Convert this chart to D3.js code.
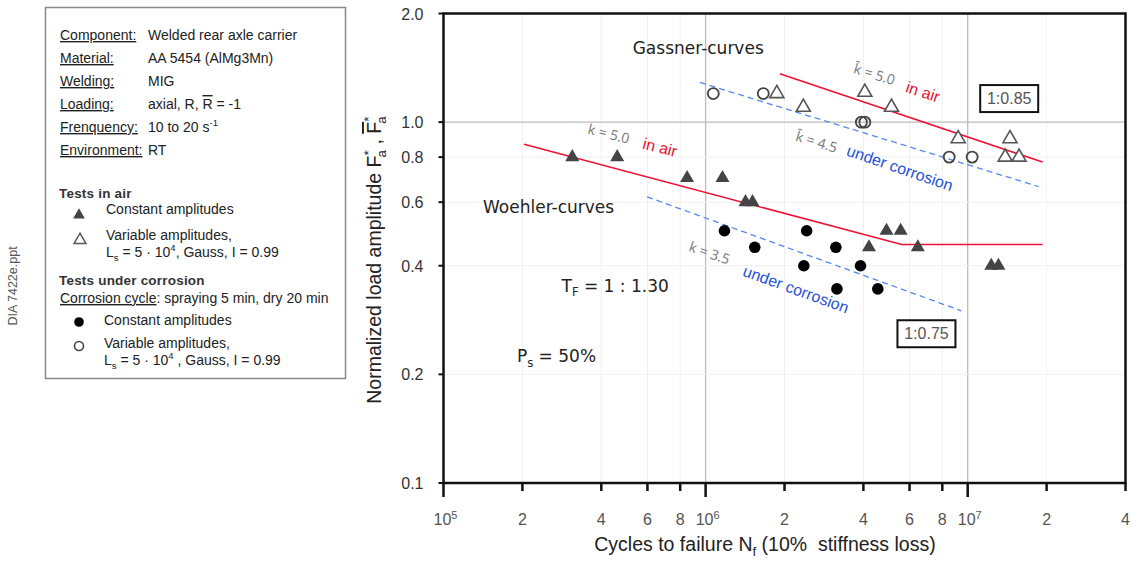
<!DOCTYPE html>
<html lang="en">
<head>
<meta charset="UTF-8">
<title>Welded rear axle carrier - Woehler and Gassner curves</title>
<script src="https://d3js.org/d3.v7.min.js"></script>
<style>
  body { margin: 0; background: #fff; }
  svg { font-family: "Liberation Sans", Arial, sans-serif; }
  .frame { fill: none; stroke: #111; stroke-width: 2.5px; }
  .grid-major { stroke: #bbb; stroke-width: 1.3px; }
  .grid-minor { stroke: #f0f0f0; stroke-width: 1px; }
  .ylab { fill: #333; font-size: 16px; text-anchor: end; }
  .xlab { fill: #555; font-size: 16px; text-anchor: middle; }
  .title { fill: #222; font-size: 19.5px; white-space: pre; }
  .legend text { fill: #222; font-size: 14px; }
  .legend .head { font-weight: bold; font-size: 13.5px; letter-spacing: 0.2px; fill: #333; }
  .note { font-size: 17px; fill: #222; font-family: "DejaVu Sans", sans-serif; }
  .kval { font-size: 14px; fill: #777; font-family: "Open Sans", sans-serif; }
  .red { fill: #e8102e; font-size: 16px; }
  .blue { fill: #2552d8; font-size: 16px; }
  .ratio { font-size: 16px; fill: #555; text-anchor: middle; }
</style>
</head>
<body>
<svg width="1139" height="561"></svg>
<script>
// ---- values ----
const xTicks = [1e5, 2e5, 4e5, 6e5, 8e5, 1e6, 2e6, 4e6, 6e6, 8e6, 1e7, 2e7, 4e7];
const xTickText = ["10|5", "2", "4", "6", "8", "10|6", "2", "4", "6", "8", "10|7", "2", "4"];
const yTicks = [0.1, 0.2, 0.4, 0.6, 0.8, 1.0, 2.0];
const yTickText = ["0.1", "0.2", "0.4", "0.6", "0.8", "1.0", "2.0"];

// tests in air, constant amplitudes (filled triangles)
const airConstN = [3.1e5, 4.6e5, 8.5e5, 1.16e6, 1.42e6, 1.51e6, 4.9e6, 5.55e6, 4.2e6, 6.45e6, 1.23e7, 1.31e7];
const airConstF = [0.80, 0.80, 0.70, 0.70, 0.60, 0.60, 0.50, 0.50, 0.45, 0.45, 0.40, 0.40];
// tests in air, variable amplitudes (open triangles)
const airVarN = [1.87e6, 2.36e6, 4.05e6, 5.12e6, 9.2e6, 1.45e7, 1.39e7, 1.57e7];
const airVarF = [1.20, 1.10, 1.21, 1.10, 0.90, 0.90, 0.80, 0.80];
// corrosion, constant amplitudes (filled circles)
const corConstN = [1.18e6, 1.54e6, 2.43e6, 3.14e6, 2.37e6, 3.9e6, 3.17e6, 4.54e6];
const corConstF = [0.50, 0.45, 0.50, 0.45, 0.40, 0.40, 0.345, 0.345];
// corrosion, variable amplitudes (open circles)
const corVarN = [1.07e6, 1.66e6, 3.93e6, 4.05e6, 8.5e6, 1.04e7];
const corVarF = [1.20, 1.20, 1.0, 1.0, 0.80, 0.80];

// fitted curves
const woehlerAirN = [2.03e5, 5.6e6, 1.93e7];
const woehlerAirF = [0.868, 0.458, 0.458];
const gassnerAirN = [1.92e6, 1.93e7];
const gassnerAirF = [1.362, 0.775];
const woehlerCorN = [5.98e5, 9.46e6];
const woehlerCorF = [0.621, 0.300];
const gassnerCorN = [9.51e5, 1.865e7];
const gassnerCorF = [1.288, 0.663];

// legend texts
const specLabels = ["Component:", "Material:", "Welding:", "Loading:", "Frenquency:", "Environment:"];
const specValues = [
  [{t: "Welded rear axle carrier"}],
  [{t: "AA 5454 (AlMg3Mn)"}],
  [{t: "MIG"}],
  [{t: "axial, R, "}, {t: "R", over: true}, {t: " = -1"}],
  [{t: "10 to 20 s"}, {t: "-1", sup: true}],
  [{t: "RT"}]
];

const svg = d3.select("svg");
const width = +svg.attr("width");
const height = +svg.attr("height");
const margin = {top: 13.5, right: 13.5, bottom: 78, left: 443.5};

const x = d3.scaleLog().domain([1e5, 4e7]).range([margin.left, width - margin.right]);
const y = d3.scaleLog().domain([0.1, 2]).range([height - margin.bottom, margin.top]);

// small helper for sub / superscripts inside a text element
function rich(text, parts, size) {
  let shift = 0;
  parts.forEach(p => {
    const target = p.sub ? size * 0.27 : p.sup ? -size * 0.4 : 0;
    const ts = text.append("tspan").attr("dy", target - shift).text(p.t);
    if (p.sub || p.sup) ts.attr("font-size", size * 0.68);
    if (p.dx) ts.attr("dx", p.dx);
    if (p.over) ts.style("text-decoration", "overline");
    if (p.under) ts.style("text-decoration", "underline");
    shift = target;
  });
}

// grid
const g = svg.append("g");
g.selectAll(".gx").data(xTicks.slice(1, -1)).enter().append("line")
  .attr("class", d => (d === 1e6 || d === 1e7) ? "grid-major" : "grid-minor")
  .attr("x1", d => x(d)).attr("x2", d => x(d))
  .attr("y1", y.range()[1]).attr("y2", y.range()[0]);
g.selectAll(".gy").data(yTicks.slice(1, -1)).enter().append("line")
  .attr("class", d => d === 1 ? "grid-major" : "grid-minor")
  .attr("y1", d => y(d)).attr("y2", d => y(d))
  .attr("x1", x.range()[0]).attr("x2", x.range()[1]);

// ticks
g.selectAll(".ty").data(yTicks).enter().append("line")
  .attr("x1", x.range()[0] - 5).attr("x2", x.range()[0])
  .attr("y1", d => y(d)).attr("y2", d => y(d))
  .attr("stroke", "#111").attr("stroke-width", 2);
g.selectAll(".tx").data(xTicks).enter().append("line")
  .attr("x1", d => x(d)).attr("x2", d => x(d))
  .attr("y1", y.range()[0])
  .attr("y2", (d, i) => y.range()[0] + (xTickText[i].includes("|") ? 14 : 8))
  .attr("stroke", "#111").attr("stroke-width", 2.5);

// tick labels
g.selectAll(".ylab").data(yTicks).enter().append("text")
  .attr("class", "ylab")
  .attr("x", x.range()[0] - 20).attr("y", d => y(d) + 6)
  .text((d, i) => yTickText[i]);
xTicks.forEach((d, i) => {
  const t = g.append("text").attr("class", "xlab")
    .attr("x", x(d) + (xTickText[i].includes("|") ? 2 : 0)).attr("y", 525);
  const [base, exp] = xTickText[i].split("|");
  if (exp) rich(t, [{t: base}, {t: exp, sup: true}], 16);
  else t.text(base);
});

// frame
g.append("rect").attr("class", "frame")
  .attr("x", x.range()[0]).attr("y", y.range()[1])
  .attr("width", x.range()[1] - x.range()[0])
  .attr("height", y.range()[0] - y.range()[1]);

// axis titles
const xt = svg.append("text").attr("class", "title")
  .attr("x", 765).attr("y", 551).attr("text-anchor", "middle");
rich(xt, [{t: "Cycles to failure N"}, {t: "f", sub: true}, {t: " (10%  stiffness loss)"}], 19.5);

const yt = svg.append("text").attr("class", "title")
  .attr("transform", "translate(381,260) rotate(-90)").attr("text-anchor", "middle");
rich(yt, [{t: "Normalized load amplitude F"}, {t: "*", sup: true}, {t: "a", sub: true, dx: -7},
  {t: " , "}, {t: "F", over: true}, {t: "*", sup: true}, {t: "a", sub: true, dx: -7}], 19.5);

// curves
const line = d3.line().x(d => x(d[0])).y(d => y(d[1]));
const curves = [
  [woehlerAirN, woehlerAirF, "#ee1133", null],
  [gassnerAirN, gassnerAirF, "#ee1133", null],
  [woehlerCorN, woehlerCorF, "#5588ee", "6,4"],
  [gassnerCorN, gassnerCorF, "#5588ee", "6,4"]
];
curves.forEach(([n, f, c, dash]) => {
  g.append("path").datum(n.map((v, i) => [v, f[i]]))
    .attr("d", line).attr("fill", "none")
    .attr("stroke", c).attr("stroke-width", dash ? 1.3 : 1.6)
    .attr("stroke-dasharray", dash);
});

// points
const tri = d3.symbol(d3.symbolTriangle, 85);
const pts = g.append("g");
pts.selectAll(".at").data(airConstN).enter().append("path")
  .attr("d", tri).attr("fill", "#444")
  .attr("transform", (d, i) => `translate(${x(d)},${y(airConstF[i])})`);
pts.selectAll(".av").data(airVarN).enter().append("path")
  .attr("d", tri).attr("fill", "#fff").attr("stroke", "#555").attr("stroke-width", 1.6)
  .attr("transform", (d, i) => `translate(${x(d)},${y(airVarF[i])})`);
pts.selectAll(".cc").data(corConstN).enter().append("circle")
  .attr("cx", d => x(d)).attr("cy", (d, i) => y(corConstF[i]))
  .attr("r", 5.8).attr("fill", "#000");
pts.selectAll(".cv").data(corVarN).enter().append("circle")
  .attr("cx", d => x(d)).attr("cy", (d, i) => y(corVarF[i]))
  .attr("r", 5.5).attr("fill", "none").attr("stroke", "#444").attr("stroke-width", 1.8);

// annotations inside the plot (placed in data coordinates)
const notes = [
  {parts: [{t: "Gassner-curves"}], n: 5.27e5, f: 1.54, cls: "note", a: 0},
  {parts: [{t: "Woehler-curves"}], n: 1.415e5, f: 0.561, cls: "note", a: 0},
  {parts: [{t: "T"}, {t: "F", sub: true}, {t: " = 1 : 1.30"}], n: 2.82e5, f: 0.339, cls: "note", a: 0},
  {parts: [{t: "P"}, {t: "s", sub: true}, {t: " = 50%"}], n: 1.906e5, f: 0.216, cls: "note", a: 0},
  {parts: [{t: "k = 5.0"}], n: 3.53e5, f: 0.93, cls: "kval", a: 14},
  {parts: [{t: "in air"}], n: 5.71e5, f: 0.845, cls: "red", a: 14},
  {parts: [{t: "k\u0304 = 5.0"}], n: 3.64e6, f: 1.37, cls: "kval", a: 17},
  {parts: [{t: "in air"}], n: 5.75e6, f: 1.213, cls: "red", a: 18},
  {parts: [{t: "k\u0304 = 4.5"}], n: 2.19e6, f: 0.89, cls: "kval", a: 17},
  {parts: [{t: "under corrosion"}], n: 3.42e6, f: 0.81, cls: "blue", a: 19},
  {parts: [{t: "k = 3.5"}], n: 8.56e5, f: 0.44, cls: "kval", a: 19},
  {parts: [{t: "under corrosion"}], n: 1.375e6, f: 0.376, cls: "blue", a: 20}
];
notes.forEach(d => {
  const t = g.append("text").attr("class", d.cls)
    .attr("transform", `translate(${x(d.n)},${y(d.f)}) rotate(${d.a})`);
  rich(t, d.parts, d.cls === "note" ? 17 : 15);
});

const ratios = [{t: "1:0.85", n: 1.44e7, f: 1.166}, {t: "1:0.75", n: 6.96e6, f: 0.26}];
ratios.forEach(d => {
  const cx = x(d.n), cy = y(d.f);
  g.append("rect").attr("x", cx - 29).attr("y", cy - 13).attr("width", 58).attr("height", 27)
    .attr("fill", "#fff").attr("stroke", "#111").attr("stroke-width", 2);
  g.append("text").attr("class", "ratio").attr("x", cx).attr("y", cy + 6).text(d.t);
});

// side note
svg.append("text").attr("transform", "translate(17,286) rotate(-90)")
  .attr("text-anchor", "middle").attr("font-size", 12.5).attr("fill", "#555").text("DIA 7422e.ppt");

// legend box
const lg = svg.append("g").attr("class", "legend");
lg.append("rect").attr("x", 45.5).attr("y", 7.5).attr("width", 300).attr("height", 371)
  .attr("fill", "#fff").attr("stroke", "#888").attr("stroke-width", 1.5);

specLabels.forEach((s, i) => {
  lg.append("text").attr("x", 60).attr("y", 40 + i * 23)
    .style("text-decoration", "underline").text(s);
  const v = lg.append("text").attr("x", 148).attr("y", 40 + i * 23);
  rich(v, specValues[i], 14);
});

lg.append("text").attr("class", "head").attr("x", 59).attr("y", 198).text("Tests in air");
lg.append("path").attr("d", d3.symbol(d3.symbolTriangle, 60))
  .attr("transform", "translate(79,215)").attr("fill", "#444");
lg.append("text").attr("x", 106).attr("y", 214).text("Constant amplitudes");
lg.append("path").attr("d", d3.symbol(d3.symbolTriangle, 60))
  .attr("transform", "translate(80,240)").attr("fill", "#fff").attr("stroke", "#555").attr("stroke-width", 1.5);
lg.append("text").attr("x", 106).attr("y", 240).text("Variable amplitudes,");
rich(lg.append("text").attr("x", 106).attr("y", 257),
  [{t: "L"}, {t: "s", sub: true}, {t: " = 5 \u00b7 10"}, {t: "4", sup: true}, {t: ", Gauss, I = 0.99"}], 14);

lg.append("text").attr("class", "head").attr("x", 59).attr("y", 285).text("Tests under corrosion");
rich(lg.append("text").attr("x", 60).attr("y", 303),
  [{t: "Corrosion cycle", under: true}, {t: ": spraying 5 min, dry 20 min"}], 14);
lg.append("circle").attr("cx", 79).attr("cy", 322).attr("r", 4.8).attr("fill", "#000");
lg.append("text").attr("x", 104).attr("y", 325).text("Constant amplitudes");
lg.append("circle").attr("cx", 79).attr("cy", 346).attr("r", 4.5)
  .attr("fill", "none").attr("stroke", "#444").attr("stroke-width", 1.6);
lg.append("text").attr("x", 104).attr("y", 348).text("Variable amplitudes,");
rich(lg.append("text").attr("x", 104).attr("y", 365),
  [{t: "L"}, {t: "s", sub: true}, {t: " = 5 \u00b7 10"}, {t: "4", sup: true}, {t: " , Gauss, I = 0.99"}], 14);
</script>
</body>
</html>
